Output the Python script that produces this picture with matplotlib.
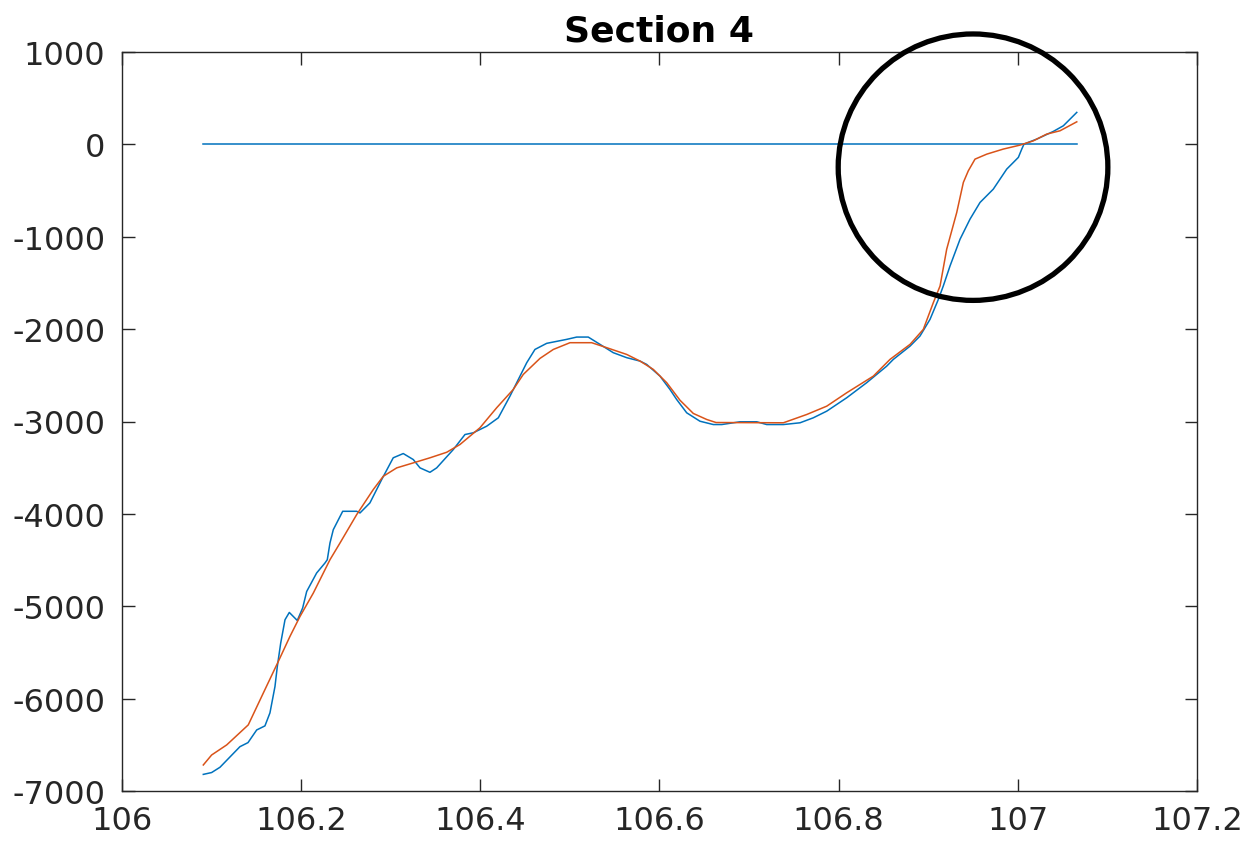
import numpy as np
import matplotlib
matplotlib.use('Agg')
import matplotlib.pyplot as plt
from matplotlib.patches import Ellipse

# Đường đo (xanh)
x_do = [106.0908, 106.1001, 106.1094, 106.1317, 106.1407, 106.1504, 106.1596, 106.1652,
        106.1708, 106.1734, 106.1772, 106.1820, 106.1868, 106.1957, 106.2017, 106.2062,
        106.2173, 106.2266, 106.2292, 106.2322, 106.2359, 106.2464, 106.2620, 106.2657,
        106.2768, 106.2899, 106.3028, 106.3140, 106.3252, 106.3327, 106.3438, 106.3513,
        106.3698, 106.3829, 106.3922, 106.4071, 106.4201, 106.4331, 106.4443, 106.4518,
        106.4610, 106.4741, 106.4964, 106.5076, 106.5205, 106.5336, 106.5484, 106.5634,
        106.5783, 106.5857, 106.6006, 106.6117, 106.6192, 106.6304, 106.6452, 106.6601,
        106.6695, 106.6899, 106.7086, 106.7197, 106.7383, 106.7569, 106.7717, 106.7867,
        106.8090, 106.8313, 106.8536, 106.8610, 106.8797, 106.8908, 106.9020, 106.9113,
        106.9168, 106.9243, 106.9355, 106.9466, 106.9578, 106.9726, 106.9876, 106.9950,
        107.0006, 107.0044, 107.0069, 107.0211, 107.0396, 107.0508, 107.0658]
y_do = [-6820, -6800, -6743, -6520, -6476, -6339, -6295, -6154,
        -5869, -5653, -5399, -5146, -5067, -5154, -5019, -4840,
        -4640, -4532, -4496, -4315, -4171, -3972, -3972, -3990,
        -3881, -3629, -3393, -3347, -3412, -3502, -3550, -3502,
        -3304, -3141, -3122, -3051, -2960, -2726, -2509, -2364,
        -2220, -2154, -2111, -2086, -2086, -2165, -2255, -2309,
        -2346, -2382, -2509, -2653, -2762, -2906, -2997, -3033,
        -3033, -3003, -3003, -3033, -3033, -3014, -2960, -2888,
        -2743, -2580, -2401, -2328, -2184, -2075, -1894, -1678,
        -1533, -1317, -1027, -810, -629, -485, -268, -196,
        -141, -51, 3, 57, 140, 201, 346]

# Đường làm trơn (cam)
x_tron = [106.0908, 106.1001, 106.1169, 106.1410, 106.1577, 106.1745, 106.1875, 106.1987,
          106.2136, 106.2322, 106.2434, 106.2620, 106.2805, 106.2917, 106.3067, 106.3252,
          106.3438, 106.3625, 106.3773, 106.3996, 106.4183, 106.4368, 106.4480, 106.4666,
          106.4815, 106.5001, 106.5243, 106.5411, 106.5634, 106.5783, 106.5931, 106.6081,
          106.6229, 106.6378, 106.6527, 106.6631, 106.7383, 106.7644, 106.7867, 106.8090,
          106.8387, 106.8573, 106.8797, 106.8945, 106.9057, 106.9132, 106.9206, 106.9318,
          106.9392, 106.9447, 106.9522, 106.9653, 106.9838, 107.0025, 107.0173, 107.0322,
          107.0471, 107.0658]
y_tron = [-6718, -6610, -6501, -6284, -5941, -5598, -5327, -5111,
          -4857, -4496, -4315, -4008, -3737, -3593, -3502, -3448,
          -3393, -3333, -3249, -3068, -2851, -2653, -2490, -2317,
          -2220, -2147, -2147, -2201, -2274, -2346, -2436, -2580,
          -2770, -2913, -2978, -3011, -3014, -2924, -2834, -2689,
          -2509, -2328, -2165, -2003, -1713, -1533, -1135, -738,
          -412, -287, -160, -106, -51, -8, 38, 111,
          147, 244]

# Đường mức 0
x_muc0 = [106.0908, 107.0658]
y_muc0 = [0, 0]

# Vùng khoanh tròn: tâm và bán trục
tam = (106.950, -247)
rong, cao = 0.301, 2884

xticks = [106, 106.2, 106.4, 106.6, 106.8, 107, 107.2]
yticks = [1000, 0, -1000, -2000, -3000, -4000, -5000, -6000, -7000]

mau_chu = '#262626'
plt.rcParams['font.family'] = 'DejaVu Sans'

fig = plt.figure(figsize=(12.47, 8.45), dpi=100)
ax = fig.add_axes([0.0978, 0.0627, 0.8621, 0.8746])

ax.plot(x_muc0, y_muc0, color='#0072BD', lw=1.1)
ax.plot(x_do, y_do, color='#0072BD', lw=1.1)
ax.plot(x_tron, y_tron, color='#D95319', lw=1.1)

vong = Ellipse(tam, rong, cao, fill=False, edgecolor='black', lw=3.8, clip_on=False, zorder=5)
ax.add_patch(vong)

ax.set_xlim(106, 107.2)
ax.set_ylim(-7000, 1000)
ax.set_xticks(xticks)
ax.set_xticklabels(['106', '106.2', '106.4', '106.6', '106.8', '107', '107.2'])
ax.set_yticks(yticks)
ax.set_yticklabels([str(v) for v in yticks])

ax.tick_params(direction='in', length=9, width=1, colors=mau_chu, labelsize=23,
               top=True, right=True)
ax.tick_params(axis='x', pad=10)
ax.tick_params(axis='y', pad=12)
for s in ax.spines.values():
    s.set_color(mau_chu)
    s.set_linewidth(1)

ax.set_title('Section 4', fontsize=26, fontweight='bold', pad=8)

fig.savefig('out.png', dpi=100, facecolor='white')
